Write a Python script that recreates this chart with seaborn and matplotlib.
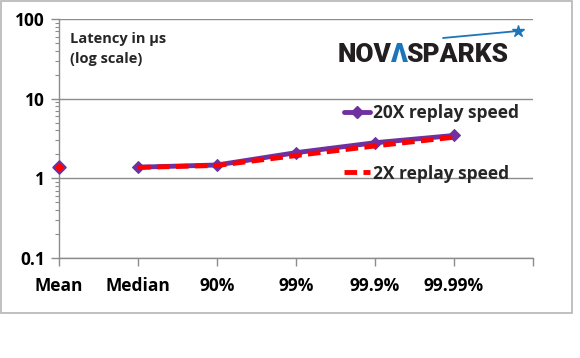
import numpy as np
import pandas as pd
import matplotlib
matplotlib.use('Agg')
import matplotlib.pyplot as plt
import seaborn as sns
from matplotlib.lines import Line2D
from matplotlib.patches import Rectangle

# Chart data (latency in microseconds)
categories = ['Mean', 'Median', '90%', '99%', '99.9%', '99.99%']
speed_20x = [1.37, 1.38, 1.47, 2.10, 2.80, 3.45]
speed_2x = [1.37, 1.37, 1.45, 1.93, 2.55, 3.28]
y_ticks = [0.1, 1, 10, 100]
y_tick_labels = ['0.1', '1', '10', '100']

PURPLE = '#7030A0'
RED = '#FF0000'
GRID = '#8c8c8c'

sns.set_theme(style='white')
plt.rcParams['font.family'] = ['Open Sans', 'DejaVu Sans']

W, H = 580, 358
fig = plt.figure(figsize=(W / 100, H / 100), dpi=100)


def px(x, y):
    # pixel position (top-left origin) -> figure fraction
    return x / W, 1 - y / H


ax = fig.add_axes([59 / W, 1 - 258 / H, (533 - 59) / W, (258 - 19) / H])

df = pd.DataFrame({'pos': np.arange(len(categories)), '20X': speed_20x, '2X': speed_2x})
lines = df.iloc[1:]

sns.lineplot(data=lines, x='pos', y='20X', ax=ax, color=PURPLE, lw=3.5,
             marker='D', markersize=6, markeredgecolor=PURPLE, zorder=3)
sns.lineplot(data=lines, x='pos', y='2X', ax=ax, color=RED, lw=3.5,
             dashes=(2.6, 1.3), zorder=4)
# the Mean point stands alone in the original chart
sns.scatterplot(x=df['pos'][:1], y=df['20X'][:1], ax=ax, marker='D', s=40,
                color=RED, edgecolor=PURPLE, linewidth=1.5, zorder=5, clip_on=False)

ax.set_yscale('log')
ax.set_ylim(0.1, 100)
ax.set_yticks(y_ticks)
ax.set_yticklabels(y_tick_labels)
ax.set_xlim(0, len(categories))
ax.set_xticks(np.arange(len(categories) + 1))
ax.set_xticklabels(categories + [''])
ax.set_xlabel('')
ax.set_ylabel('')

ax.grid(axis='y', which='major', color=GRID, lw=1)
ax.grid(axis='x', visible=False)
for s in ['top', 'right']:
    ax.spines[s].set_visible(False)
for s in ['left', 'bottom']:
    ax.spines[s].set_color(GRID)
    ax.spines[s].set_linewidth(1)

ax.tick_params(axis='y', which='major', direction='out', length=6, width=1,
               color=GRID, left=True, labelsize=12.5, pad=4)
ax.tick_params(axis='y', which='minor', direction='out', length=3, width=0.8,
               color=GRID, left=True)
ax.tick_params(axis='x', direction='out', length=6, width=1, color=GRID,
               bottom=True, labelsize=12.5, pad=8)
for lbl in ax.get_xticklabels() + ax.get_yticklabels():
    lbl.set_fontweight('bold')
    lbl.set_color('black')

# axis title inside the plot
fig.text(*px(70, 32), 'Latency in µs\n(log scale)', fontsize=10.5, fontweight='bold',
         va='top', ha='left', linespacing=1.55)

# legend
handles = [Line2D([], [], color=PURPLE, lw=3.5, marker='D', markersize=6),
           Line2D([], [], color=RED, lw=3.5, dashes=(2.6, 1.3))]
fig.legend(handles, ['20X replay speed', '2X replay speed'], loc='upper left',
           bbox_to_anchor=px(344, 104), frameon=False,
           prop={'weight': 'bold', 'size': 12.5}, handlelength=1.5,
           handletextpad=0.15, labelspacing=2.45, borderaxespad=0, borderpad=0)

# logo
logo_dark = '#231f20'
logo_blue = '#1a75bb'
t1 = fig.text(*px(338, 62), 'NOV', fontsize=19, fontweight='heavy',
              color=logo_dark, family='Roboto', va='baseline')
t2 = ax.annotate('Λ', xy=(1, 0), xycoords=t1, xytext=(-1, 0), textcoords='offset points',
                 fontsize=19, fontweight='heavy', color=logo_blue, family='Roboto',
                 va='bottom')
t3 = ax.annotate('SPARKS', xy=(1, 0), xycoords=t2, xytext=(-1, 0), textcoords='offset points',
                 fontsize=19, fontweight='heavy', color=logo_dark, family='Roboto',
                 va='bottom')
fig.add_artist(Line2D([443 / W, 518 / W], [1 - 38 / H, 1 - 31 / H], color=logo_blue,
                      lw=1.3, transform=fig.transFigure))
fig.add_artist(Line2D([518 / W], [1 - 31 / H], color=logo_blue, marker='*',
                      markersize=9, lw=0, transform=fig.transFigure))

# outer chart frame
fig.add_artist(Rectangle(px(1, 313), 571 / W, 312 / H, fill=False,
                         edgecolor='#b5b5b5', lw=1.2, transform=fig.transFigure))

fig.savefig('out.png', dpi=100)
